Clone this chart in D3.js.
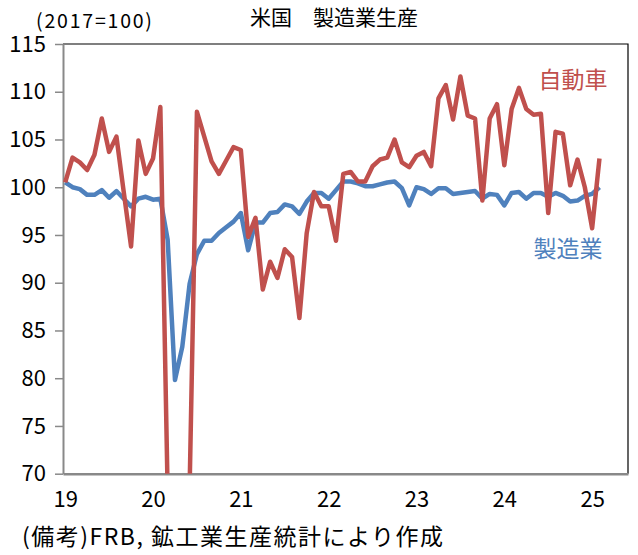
<!DOCTYPE html>
<meta charset="utf-8">
<style>
body { margin: 0; background: #fff; }
svg text { font-family: "Noto Sans CJK JP", "Noto Sans", sans-serif; fill: #000; }
.axis path, .axis line { stroke: #898989; }
</style>
<svg width="638" height="555"></svg>
<script src="https://cdn.jsdelivr.net/npm/d3@7"></script>
<script>

// monthly index, 2017=100, Jan 2019 .. Feb 2025
var yearLabels = ["19", "20", "21", "22", "23", "24", "25"];
var yTicks = [70, 75, 80, 85, 90, 95, 100, 105, 110, 115];

// 製造業
var manufacturing = [
  100.5, 100.0, 99.8, 99.2, 99.2, 99.7, 98.9, 99.6, 98.8, 98.0, 98.8, 99.0,
  98.7, 98.8, 94.5, 79.8, 83.3, 89.9, 93.0, 94.4, 94.4, 95.2, 95.8, 96.4,
  97.3, 93.4, 96.3, 96.3, 97.3, 97.4, 98.2, 98.0, 97.2, 98.5, 99.4, 99.4,
  98.8, 99.7, 100.6, 100.6, 100.4, 100.1, 100.1, 100.3, 100.5, 100.6, 99.9, 98.1,
  100.0, 99.8, 99.3, 99.9, 99.9, 99.3, 99.4, 99.5, 99.6, 98.8, 99.3, 99.2,
  98.1, 99.4, 99.5, 98.8, 99.4, 99.4, 99.0, 99.4, 99.1, 98.5, 98.6, 99.1,
  99.3, 100.0
];

// 自動車 (Mar-Jun 2020 fall below the axis and are clipped)
var autos = [
  100.5, 103.1, 102.6, 101.8, 103.4, 107.2, 103.7, 105.3, 99.5, 93.8, 104.9, 101.4,
  103.0, 108.4, 68.0, 20.0, 40.0, 68.5, 107.9, 105.3, 102.7, 101.4, 102.8, 104.2,
  103.9, 94.8, 96.8, 89.3, 92.2, 90.5, 93.5, 92.7, 86.3, 95.2, 99.5, 98.0,
  98.0, 94.4, 101.4, 101.6, 100.6, 100.6, 102.2, 102.9, 103.1, 105.0, 102.6, 102.1,
  103.3, 103.7, 102.2, 109.3, 110.7, 107.1, 111.6, 107.5, 107.2, 98.6, 107.2, 108.7,
  102.3, 108.2, 110.4, 108.2, 107.6, 107.7, 97.3, 105.8, 105.6, 100.2, 102.9, 100.0,
  95.7, 103.0
];

var red = "#c0504d", blue = "#4f81bd";

var svg = d3.select("svg");
var pl = 63, pr = 628, pt = 44, pb = 473.7;

var x = d3.scaleLinear().domain([-0.3, 76.9]).range([pl, pr]);
var y = d3.scaleLinear().domain([70, 115]).range([pb, pt]);

svg.append("clipPath").attr("id", "plot")
  .append("rect")
    .attr("x", pl).attr("y", pt)
    .attr("width", pr - pl).attr("height", pb - pt);

// frame: black top / right, grey axes
svg.append("path")
    .attr("d", "M" + pl + "," + pt + "H" + pr + "V" + pb)
    .attr("fill", "none")
    .attr("stroke", "#000")
    .attr("stroke-width", 1.2);

var yAxis = svg.append("g")
    .attr("class", "axis")
    .attr("transform", "translate(" + pl + ",0)")
    .call(d3.axisLeft(y).tickValues(yTicks).tickSize(8).tickPadding(9).tickSizeOuter(0));
yAxis.select(".domain").attr("stroke-width", 2);
yAxis.selectAll("line").attr("stroke-width", 1.5);
yAxis.selectAll("text").attr("font-size", 22).attr("fill", "#000").attr("font-family", null);

var xAxis = svg.append("g")
    .attr("class", "axis")
    .attr("transform", "translate(0," + pb + ")")
    .call(d3.axisBottom(x)
      .tickValues(yearLabels.map(function(d, i) { return i * 12; }))
      .tickFormat(function(d) { return yearLabels[d / 12]; })
      .tickSize(0).tickPadding(18).tickSizeOuter(0));
xAxis.select(".domain").attr("stroke-width", 2.5);
xAxis.selectAll("text").attr("font-size", 22).attr("fill", "#000").attr("font-family", null);

var line = d3.line()
    .x(function(d, i) { return x(i); })
    .y(function(d) { return y(d); });

var g = svg.append("g").attr("clip-path", "url(#plot)");

g.append("path")
    .datum(manufacturing)
    .attr("d", line)
    .attr("fill", "none")
    .attr("stroke", blue)
    .attr("stroke-width", 4.5)
    .attr("stroke-linejoin", "round");

g.append("path")
    .datum(autos)
    .attr("d", line)
    .attr("fill", "none")
    .attr("stroke", red)
    .attr("stroke-width", 4.5)
    .attr("stroke-linejoin", "round");

// texts
svg.append("text")
    .attr("x", 334).attr("y", 25)
    .attr("text-anchor", "middle")
    .attr("font-size", 21)
    .text("米国　製造業生産");

svg.append("text")
    .attr("x", 36).attr("y", 28)
    .attr("font-size", 19.5)
    .attr("letter-spacing", 1.8)
    .text("(2017=100)");

svg.append("text")
    .attr("x", 573).attr("y", 88)
    .attr("text-anchor", "middle")
    .attr("font-size", 23)
    .style("fill", red)
    .text("自動車");

svg.append("text")
    .attr("x", 568).attr("y", 257)
    .attr("text-anchor", "middle")
    .attr("font-size", 23)
    .style("fill", blue)
    .text("製造業");

svg.append("text")
    .attr("x", 22).attr("y", 545)
    .attr("font-size", 23)
    .attr("letter-spacing", 1.5)
    .text("(備考)FRB, 鉱工業生産統計により作成");

</script>
